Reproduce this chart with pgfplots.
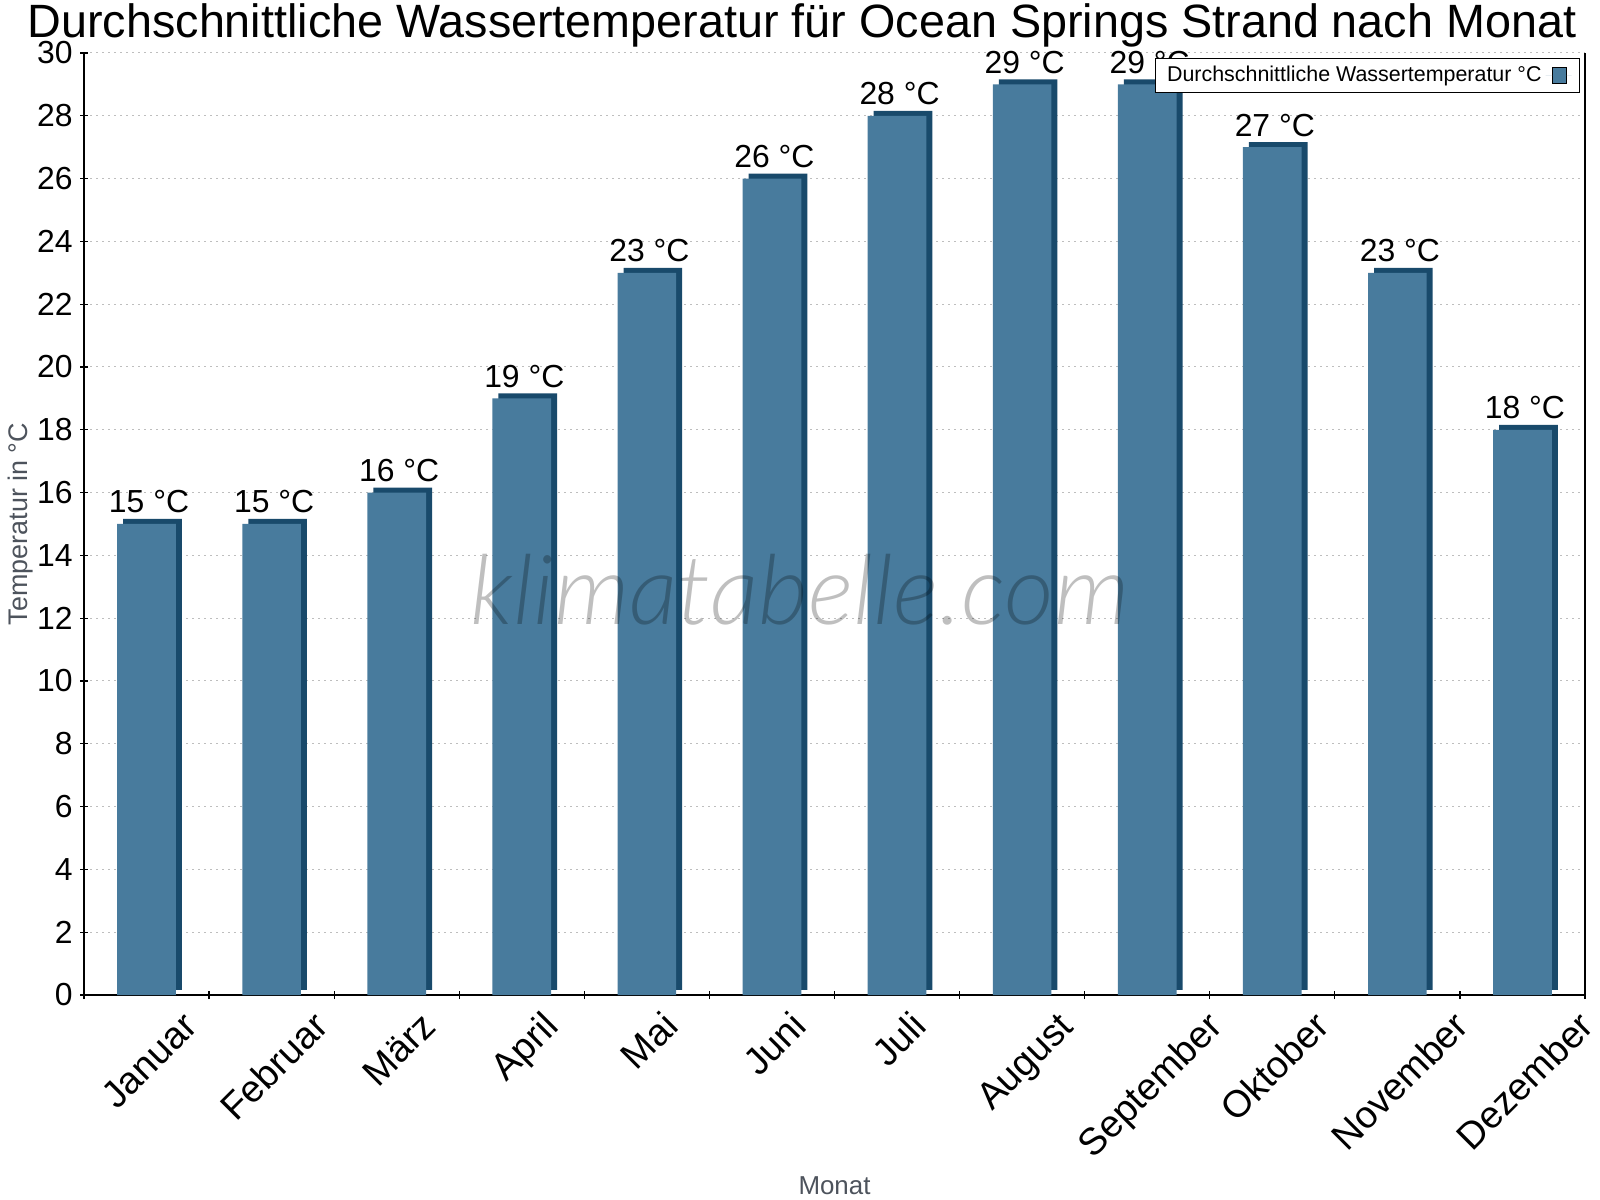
\documentclass[border=0pt]{standalone}
\usepackage{fontspec}
\setmainfont{Liberation Sans}
\newfontfamily\wmfont{Lato Light Italic}
\usepackage{pgfplots}
\pgfplotsset{compat=1.18}
\usetikzlibrary{calc}

\definecolor{barfront}{RGB}{72,123,157}
\definecolor{barside}{RGB}{25,74,107}
\definecolor{labelgray}{RGB}{77,83,92}
\definecolor{gridgray}{RGB}{190,190,190}

\newcommand\tickfont{\fontsize{16}{19}\selectfont}
\newcommand\monthfont{\fontsize{19}{22}\selectfont}
\newlength\mlen
% rotated month name, centred under its bar; longer names sit lower
\newcommand\monthlabel[2]{%
  \edef\next{\noexpand\node[rotate=45, anchor=center, inner sep=0pt,
    font=\noexpand\monthfont, text height=13.6bp, text depth=0pt]
    at ($(axis cs:#1,0)+(1bp,\csname mdrop#1\endcsname)$) {#2};}%
  \next}

\begin{document}
% drop of each month label below the axis, from the width of its name
\foreach \i/\m in {0/Januar,1/Februar,2/März,3/April,4/Mai,5/Juni,6/Juli,
  7/August,8/September,9/Oktober,10/November,11/Dezember}{%
  \settowidth{\mlen}{\monthfont \m}%
  \expandafter\xdef\csname mdrop\i\endcsname{\the\dimexpr -12bp-0.3536\mlen\relax}}%
\begin{tikzpicture}
\path[use as bounding box] (0bp,0bp) rectangle (800bp,600bp);

\node[anchor=base, font=\fontsize{23.45}{27}\selectfont] at (401bp,581bp)
  {Durchschnittliche Wassertemperatur für Ocean Springs Strand nach Monat};

\begin{axis}[
  at={(42bp,102.5bp)}, anchor=south west,
  scale only axis, width=750.5bp, height=471bp,
  xmin=-0.5, xmax=11.5, ymin=0, ymax=30,
  axis x line*=bottom, axis y line*=left,
  axis line style={line width=0.6bp, -},
  every outer x axis line/.append style={-},
  every outer y axis line/.append style={-},
  xtick={-0.5,0.5,...,11.5}, xticklabels={},
  ytick={0,2,...,30},
  tick align=center, major tick length=4bp,
  tick style={line width=0.6bp, black},
  ymajorgrids,
  grid style={gridgray, line width=0.5bp, dash pattern=on 1bp off 2bp},
  /pgf/number format/assume math mode=true,
  yticklabel style={font=\tickfont, inner sep=0pt, anchor=east, xshift=-3.5bp},
  ylabel={Temperatur in °C},
  xlabel={Monat},
  every axis y label/.style={at={(rel axis cs:0,0.5)}, xshift=-31.5bp, yshift=0bp,
    rotate=90, anchor=center, font=\fontsize{13.5}{15}\selectfont, text=labelgray},
  every axis x label/.style={at={(rel axis cs:0.5,0)}, anchor=base,
    yshift=-99.5bp, font=\fontsize{13}{15}\selectfont, text=labelgray},
  clip=false,
  legend style={at={(1,1)}, anchor=north east, xshift=-2.5bp, yshift=-2.5bp,
    draw=black, line width=0.5bp, fill=white,
    font=\fontsize{10.75}{12}\selectfont, inner xsep=4bp, inner ysep=2bp},
  legend plot pos=right,
  legend image code/.code={%
    \draw[fill=barfront, draw=black, line width=0.5bp] (3.5bp,-4bp) rectangle (10.5bp,4bp);
    \path (0bp,0bp) -- (13bp,0bp);},
]
% side and top faces of the bars
\addplot[ybar, bar width=29.35bp, bar shift=0pt, fill=barside, draw=none,
  xshift=3bp, yshift=2.5bp, forget plot]
  coordinates {(0,15) (1,15) (2,16) (3,19) (4,23) (5,26) (6,28) (7,29) (8,29) (9,27) (10,23) (11,18)};
% front faces with value labels
\addplot[ybar, bar width=29.35bp, bar shift=0pt, fill=barfront, draw=none,
  nodes near coords={\pgfmathprintnumber{\pgfplotspointmeta} °C},
  every node near coord/.append style={anchor=base, xshift=1.25bp, yshift=5.5bp,
    inner sep=0pt, font=\tickfont, text=black}]
  coordinates {(0,15) (1,15) (2,16) (3,19) (4,23) (5,26) (6,28) (7,29) (8,29) (9,27) (10,23) (11,18)};
\addlegendentry{Durchschnittliche Wassertemperatur °C}

\draw[line width=0.6bp] (rel axis cs:1,0) -- (rel axis cs:1,1);

\monthlabel{0}{Januar}
\monthlabel{1}{Februar}
\monthlabel{2}{März}
\monthlabel{3}{April}
\monthlabel{4}{Mai}
\monthlabel{5}{Juni}
\monthlabel{6}{Juli}
\monthlabel{7}{August}
\monthlabel{8}{September}
\monthlabel{9}{Oktober}
\monthlabel{10}{November}
\monthlabel{11}{Dezember}
\end{axis}

\node[anchor=base, font=\wmfont\fontsize{48.5}{52}\selectfont, text=black,
  text opacity=0.25] at (400bp,287.5bp) {klimatabelle.com};
\end{tikzpicture}
\end{document}
